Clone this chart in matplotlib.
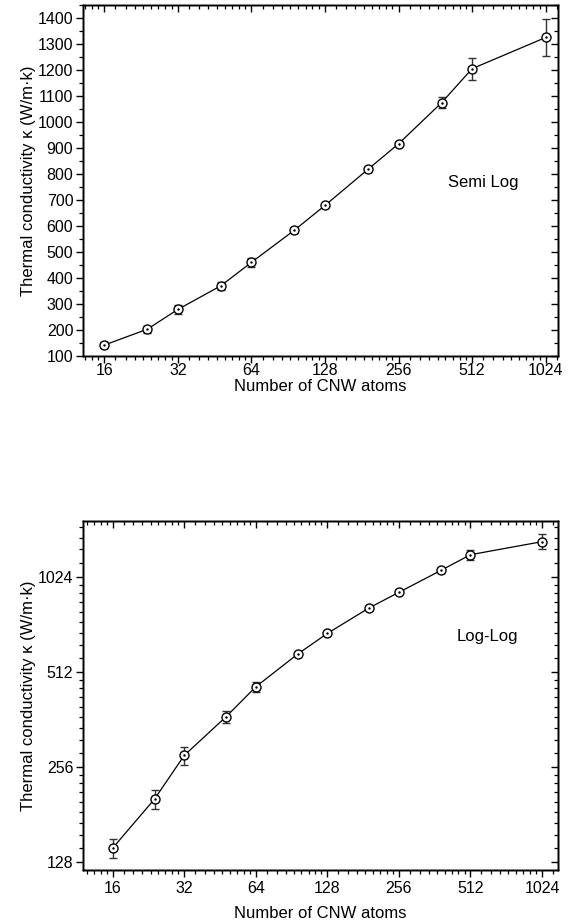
import numpy as np
import matplotlib
matplotlib.use("Agg")
import matplotlib.pyplot as plt
from matplotlib.ticker import FixedLocator, LogLocator, MultipleLocator, NullFormatter, FixedFormatter

plt.rcParams['font.family'] = ['Liberation Sans', 'DejaVu Sans']

# data
atoms = [16, 24, 32, 48, 64, 96, 128, 192, 256, 384, 512, 1024]
kappa = [142, 203, 279, 370, 460, 584, 679, 818, 916, 1074, 1205, 1325]
kappa_err = [10, 14, 18, 16, 17, 10, 9, 9, 9, 22, 43, 72]
x_ticks = [16, 32, 64, 128, 256, 512, 1024]
semi_y_ticks = list(range(100, 1500, 100))
log_y_ticks = [128, 256, 512, 1024]
ylabel = "Thermal conductivity \u03ba (W/m\u00b7k)"
xlabel = "Number of CNW atoms"

SUBS = 1 + np.arange(1, 9) / 9.0
FS = 11.5


def style_axes(ax, xlim, ylim, ylog, yticks, xpad, xlabelpad):
    ax.set_xscale('log', base=2)
    if ylog:
        ax.set_yscale('log', base=2)
    ax.set_xlim(*xlim)
    ax.set_ylim(*ylim)
    for a in (ax, ax.twiny(), ax.twinx()):
        a.set_xscale('log', base=2)
        a.set_xlim(*xlim)
        if ylog:
            a.set_yscale('log', base=2)
        a.set_ylim(*ylim)
        a.xaxis.set_major_locator(FixedLocator(x_ticks))
        a.xaxis.set_minor_locator(LogLocator(base=2, subs=SUBS, numticks=30))
        a.xaxis.set_major_formatter(FixedFormatter([str(t) for t in x_ticks]))
        a.xaxis.set_minor_formatter(NullFormatter())
        a.yaxis.set_major_locator(FixedLocator(yticks))
        a.yaxis.set_major_formatter(FixedFormatter([str(t) for t in yticks]))
        if ylog:
            a.yaxis.set_minor_locator(LogLocator(base=2, subs=SUBS, numticks=30))
        else:
            a.yaxis.set_minor_locator(MultipleLocator(50))
        a.yaxis.set_minor_formatter(NullFormatter())
        for s in a.spines.values():
            s.set_linewidth(1.0)
    axt, axr = ax.figure.axes[-2], ax.figure.axes[-1]
    ax.tick_params(which='major', direction='out', length=5, width=1.0, labelsize=FS, pad=2,
                   top=False, right=False)
    ax.tick_params(axis='x', which='major', pad=xpad)
    ax.tick_params(which='minor', direction='out', length=3, width=0.9, top=False, right=False)
    axt.tick_params(which='major', direction='in', length=5, width=1.0, labeltop=False)
    axt.tick_params(which='minor', direction='in', length=3, width=0.9)
    axr.tick_params(which='major', direction='in', length=5, width=1.0, labelright=False)
    axr.tick_params(which='minor', direction='in', length=3, width=0.9)
    ax.set_xlabel(xlabel, fontsize=FS + 0.5, labelpad=xlabelpad)
    ax.set_ylabel(ylabel, fontsize=FS + 0.5, labelpad=1)


def draw(ax):
    ax.errorbar(atoms, kappa, yerr=kappa_err, fmt='o', ms=6.5, mfc='white', mec='black',
                mew=1.0, ecolor='#333333', elinewidth=1.0, capsize=2.8, capthick=1.0,
                color='black', ls='-', lw=0.9, zorder=3)
    ax.plot(atoms, kappa, ls='none', marker='.', ms=1.5, color='black', zorder=4)


fig = plt.figure(figsize=(5.7, 9.24), dpi=100)

ax1 = fig.add_axes([0.1456, 0.6147, 0.8333, 0.3799])
draw(ax1)
style_axes(ax1, (13.1, 1150), (100, 1450), False, semi_y_ticks, xpad=0, xlabelpad=0.5)
ax1.text(0.842, 0.493, "Semi Log", transform=ax1.transAxes, ha='center', va='center', fontsize=FS + 0.5)

ax2 = fig.add_axes([0.1456, 0.0584, 0.8333, 0.3777])
draw(ax2)
style_axes(ax2, (12.0, 1195), (121, 1540), True, log_y_ticks, xpad=3, xlabelpad=7)
ax2.text(0.851, 0.668, "Log-Log", transform=ax2.transAxes, ha='center', va='center', fontsize=FS + 0.5)

fig.savefig("out.png", dpi=100)
